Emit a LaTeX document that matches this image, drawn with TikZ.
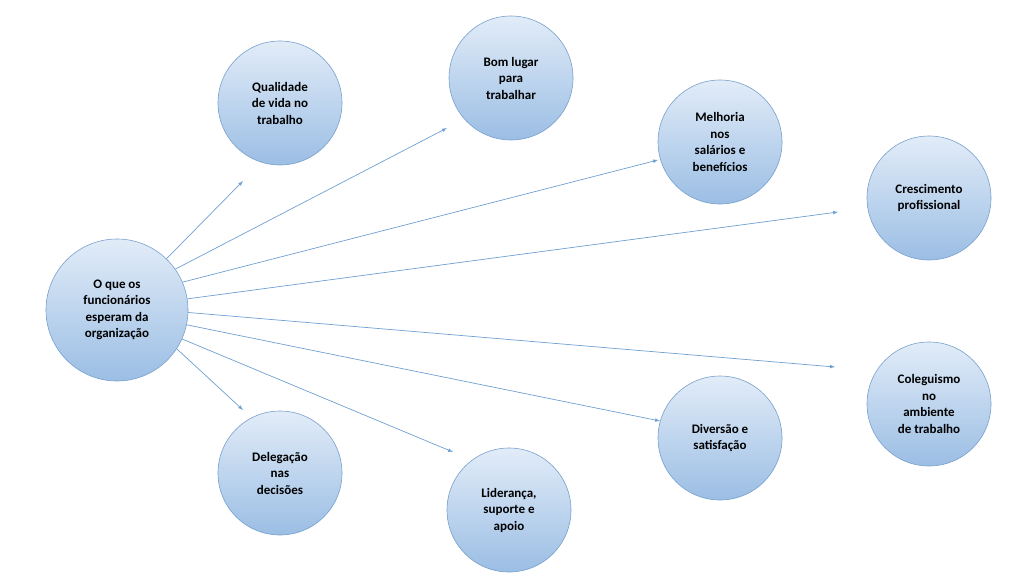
\documentclass[tikz,border=0pt]{standalone}
\usepackage{fontspec}
\setmainfont{Carlito}
\definecolor{circlerim}{RGB}{120,160,205}
\definecolor{circletop}{RGB}{226,236,248}
\definecolor{circlebot}{RGB}{155,190,228}
\definecolor{arrowcol}{RGB}{110,160,210}
\begin{document}
\begin{tikzpicture}[yscale=-1
,bubble/.style={circle,draw=circlerim,line width=0.6pt,top color=circletop,bottom color=circlebot,align=center,font=\bfseries\fontsize{13}{16.5}\selectfont,inner sep=0pt}
,link/.style={color=arrowcol,line width=0.7pt,-latex}
]
\useasboundingbox (0pt,0pt) rectangle (1024pt,588pt);
\node[bubble,minimum size=142pt] (org) at (117pt,310pt) {O que os\\funcionários\\esperam da\\organização};
\node[bubble,minimum size=124pt] (qual) at (280pt,103pt) {Qualidade\\de vida no\\trabalho};
\node[bubble,minimum size=124pt] (bom) at (511pt,78pt) {Bom lugar\\para\\trabalhar};
\node[bubble,minimum size=124pt] (melh) at (720pt,142pt) {Melhoria\\nos\\salários e\\benefícios};
\node[bubble,minimum size=124pt] (cresc) at (929pt,198pt) {Crescimento\\profissional};
\node[bubble,minimum size=124pt] (coleg) at (929pt,404pt) {Coleguismo\\no\\ambiente\\de trabalho};
\node[bubble,minimum size=124pt] (div) at (720pt,438pt) {Diversão e\\satisfação};
\node[bubble,minimum size=124pt] (lid) at (509pt,510pt) {Liderança,\\suporte e\\apoio};
\node[bubble,minimum size=124pt] (deleg) at (280pt,473pt) {Delegação\\nas\\decisões};
% free ends of the arrows
\coordinate (qualend) at (243pt,181pt);
\coordinate (bomend) at (447pt,128pt);
\coordinate (melhend) at (658pt,160pt);
\coordinate (crescend) at (838pt,212pt);
\coordinate (colegend) at (835pt,367pt);
\coordinate (divend) at (660pt,421pt);
\coordinate (lidend) at (453pt,452pt);
\coordinate (delegend) at (243pt,410pt);
\draw[link] (org.46) -- (qualend);
\draw[link] (org.35) -- (bomend);
\draw[link] (org.23) -- (melhend);
\draw[link] (org.9) -- (crescend);
\draw[link] (org.-2) -- (colegend);
\draw[link] (org.-12) -- (divend);
\draw[link] (org.-24) -- (lidend);
\draw[link] (org.-33) -- (delegend);
\end{tikzpicture}
\end{document}
